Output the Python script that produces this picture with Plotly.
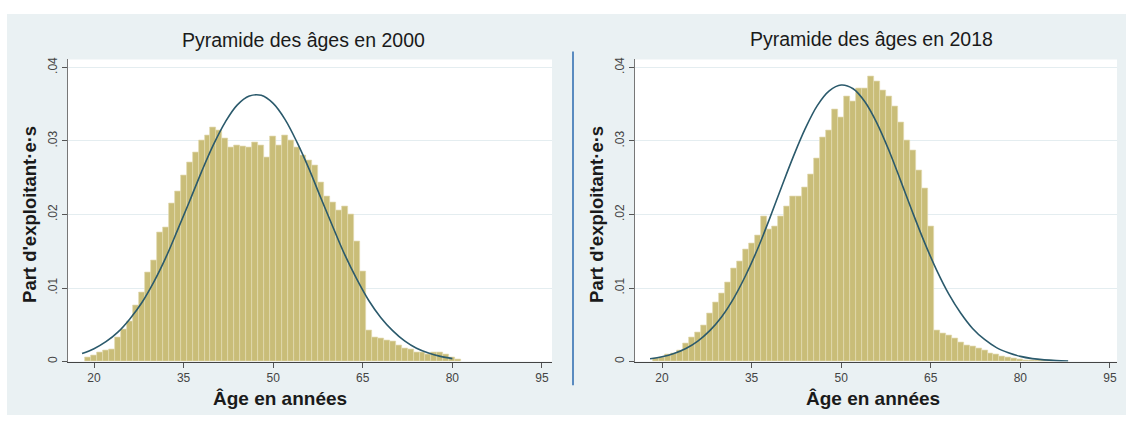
import plotly.graph_objects as go

W, H = 1126, 421

# ---------------- data ----------------
ages_2000 = list(range(19, 82))
share_2000 = [0.0005, 0.0008, 0.0013, 0.0015, 0.0017, 0.0033, 0.0044, 0.0055, 0.0076, 0.0094,
              0.0121, 0.0137, 0.0175, 0.0182, 0.0215, 0.0231, 0.0253, 0.0271, 0.0285, 0.0300,
              0.0307, 0.0318, 0.0314, 0.0303, 0.0291, 0.0294, 0.0292, 0.0291, 0.0298, 0.0294,
              0.0278, 0.0306, 0.0294, 0.0307, 0.0300, 0.0291, 0.0280, 0.0273, 0.0267, 0.0244,
              0.0224, 0.0217, 0.0206, 0.0211, 0.0200, 0.0163, 0.0123, 0.0042, 0.0033, 0.0031,
              0.0029, 0.0027, 0.0022, 0.0018, 0.0016, 0.0013, 0.0012, 0.0010, 0.0013, 0.0012,
              0.0009, 0.0006, 0.0003]

ages_2018 = list(range(19, 86))
share_2018 = [0.0004, 0.0006, 0.0009, 0.0011, 0.0015, 0.0024, 0.0033, 0.0040, 0.0049, 0.0065,
              0.0080, 0.0092, 0.0107, 0.0127, 0.0136, 0.0152, 0.0161, 0.0172, 0.0197, 0.0179,
              0.0184, 0.0197, 0.0211, 0.0224, 0.0224, 0.0237, 0.0255, 0.0276, 0.0305, 0.0314,
              0.0343, 0.0332, 0.0361, 0.0354, 0.0372, 0.0372, 0.0388, 0.0381, 0.0368, 0.0361,
              0.0347, 0.0325, 0.0300, 0.0287, 0.0260, 0.0235, 0.0184, 0.0042, 0.0038, 0.0035,
              0.0031, 0.0026, 0.0022, 0.0020, 0.0018, 0.0015, 0.0011, 0.0009, 0.0007, 0.0005,
              0.0004, 0.0003, 0.0002, 0.0002, 0.0001, 0.0001, 0.0001]

# normal-density overlay, read at 2-year steps
curve_ages_2000 = list(range(18, 82, 2))
curve_2000 = [0.0011, 0.00175, 0.0027, 0.0040, 0.0058, 0.0080, 0.0108, 0.0141, 0.0179, 0.0218,
              0.0258, 0.0295, 0.0326, 0.0349, 0.0361, 0.0362, 0.0351, 0.0329, 0.0298, 0.0262,
              0.0222, 0.0183, 0.0145, 0.0112, 0.0083, 0.0060, 0.0042, 0.0028, 0.0018, 0.00115,
              0.0007, 0.0004]

curve_ages_2018 = list(range(18, 90, 2))
curve_2018 = [0.00037, 0.00065, 0.00109, 0.00177, 0.00278, 0.0042, 0.0061, 0.0086, 0.0117, 0.0153,
              0.0194, 0.0237, 0.0279, 0.0317, 0.0348, 0.0368, 0.0376, 0.0371, 0.0353, 0.0324,
              0.0287, 0.0245, 0.0202, 0.0161, 0.0124, 0.0092, 0.0066, 0.0045, 0.0030, 0.0019,
              0.0012, 0.0007, 0.0004, 0.00023, 0.00013, 0.00007]

x_ticks = [20, 35, 50, 65, 80, 95]
y_ticks = [0, 0.01, 0.02, 0.03, 0.04]
y_tick_labels = ["0", ".01", ".02", ".03", ".04"]

panel_titles = ["Pyramide des âges en 2000", "Pyramide des âges en 2018"]
x_title = "Âge en années"
y_title = "Part d'exploitant·e·s"

# ---------------- style ----------------
BG = "#eaf1f3"
BAR = "#c9bd78"
BAR_LINE = "#e2dab0"
CURVE = "#2b5a6c"
FONT = "Liberation Sans, Arial, sans-serif"


def px_x(p):
    return p / W


def px_y(p):
    return 1 - p / H


fig = go.Figure()

fig.add_trace(go.Bar(x=ages_2000, y=share_2000, width=1, marker=dict(color=BAR, line=dict(color=BAR_LINE, width=0.7)),
                     xaxis="x", yaxis="y", showlegend=False))
fig.add_trace(go.Scatter(x=curve_ages_2000, y=curve_2000, mode="lines", line=dict(color=CURVE, width=1.6, shape="spline"),
                         xaxis="x", yaxis="y", showlegend=False))
fig.add_trace(go.Bar(x=ages_2018, y=share_2018, width=1, marker=dict(color=BAR, line=dict(color=BAR_LINE, width=0.7)),
                     xaxis="x2", yaxis="y2", showlegend=False))
fig.add_trace(go.Scatter(x=curve_ages_2018, y=curve_2018, mode="lines", line=dict(color=CURVE, width=1.6, shape="spline"),
                         xaxis="x2", yaxis="y2", showlegend=False))

ydom = [px_y(363), px_y(58)]
dom_left = [px_x(68), px_x(552)]
dom_right = [px_x(635), px_x(1117)]

xcommon = dict(tickvals=x_ticks, ticks="outside", ticklen=5, tickwidth=1, tickcolor="#555",
               showline=True, linecolor="#444", linewidth=1, showgrid=False, zeroline=False,
               tickfont=dict(family=FONT, size=12, color="#444"))
ycommon = dict(tickvals=y_ticks, ticktext=y_tick_labels, tickangle=-90, ticks="outside", ticklen=5, tickwidth=1,
               tickcolor="#555", showline=True, linecolor="#777", linewidth=1, showgrid=True,
               gridcolor="#e4edf0", gridwidth=1.3, zeroline=False, range=[0, 0.04108], domain=ydom,
               tickfont=dict(family=FONT, size=12, color="#444"))

fig.update_layout(
    width=W, height=H,
    margin=dict(l=0, r=0, t=0, b=0),
    paper_bgcolor="white",
    plot_bgcolor="rgba(0,0,0,0)",
    bargap=0,
    xaxis=dict(domain=dom_left, range=[15.647, 96.68], anchor="y", **xcommon),
    yaxis=dict(anchor="x", **ycommon),
    xaxis2=dict(domain=dom_right, range=[15.48, 96.18], anchor="y2", **xcommon),
    yaxis2=dict(anchor="x2", **ycommon),
)

shapes = [
    dict(type="rect", xref="paper", yref="paper", x0=px_x(7), x1=1, y0=px_y(417), y1=px_y(12),
         fillcolor=BG, line=dict(width=0), layer="below"),
    dict(type="rect", xref="paper", yref="paper", x0=dom_left[0], x1=dom_left[1], y0=ydom[0], y1=ydom[1],
         fillcolor="white", line=dict(width=0), layer="below"),
    dict(type="rect", xref="paper", yref="paper", x0=dom_right[0], x1=dom_right[1], y0=ydom[0], y1=ydom[1],
         fillcolor="white", line=dict(width=0), layer="below"),
    dict(type="line", xref="paper", yref="paper", x0=px_x(573), x1=px_x(573), y0=px_y(387), y1=px_y(50),
         line=dict(color="#5a8bc0", width=2), layer="above"),
]
fig.update_layout(shapes=shapes)

title_font = dict(family=FONT, size=19.5, color="#1a1a1a")
axt_font = dict(family=FONT, size=18.5, color="#1a1a1a", weight="bold")
xt_font = dict(family=FONT, size=19, color="#1a1a1a", weight="bold")
ann = [
    dict(text=panel_titles[0], x=px_x(303), y=px_y(38), font=title_font),
    dict(text=panel_titles[1], x=px_x(871), y=px_y(37), font=title_font),
    dict(text=x_title, x=px_x(280), y=px_y(400), font=xt_font),
    dict(text=x_title, x=px_x(873), y=px_y(400), font=xt_font),
    dict(text=y_title, x=px_x(30), y=px_y(215), textangle=-90, font=axt_font),
    dict(text=y_title, x=px_x(597), y=px_y(215), textangle=-90, font=axt_font),
]
for a in ann:
    fig.add_annotation(xref="paper", yref="paper", xanchor="center", yanchor="middle", showarrow=False, **a)

fig.write_html("out.html", config={"displayModeBar": False},
               post_script="document.body.style.margin='0';document.body.style.overflow='hidden';")
